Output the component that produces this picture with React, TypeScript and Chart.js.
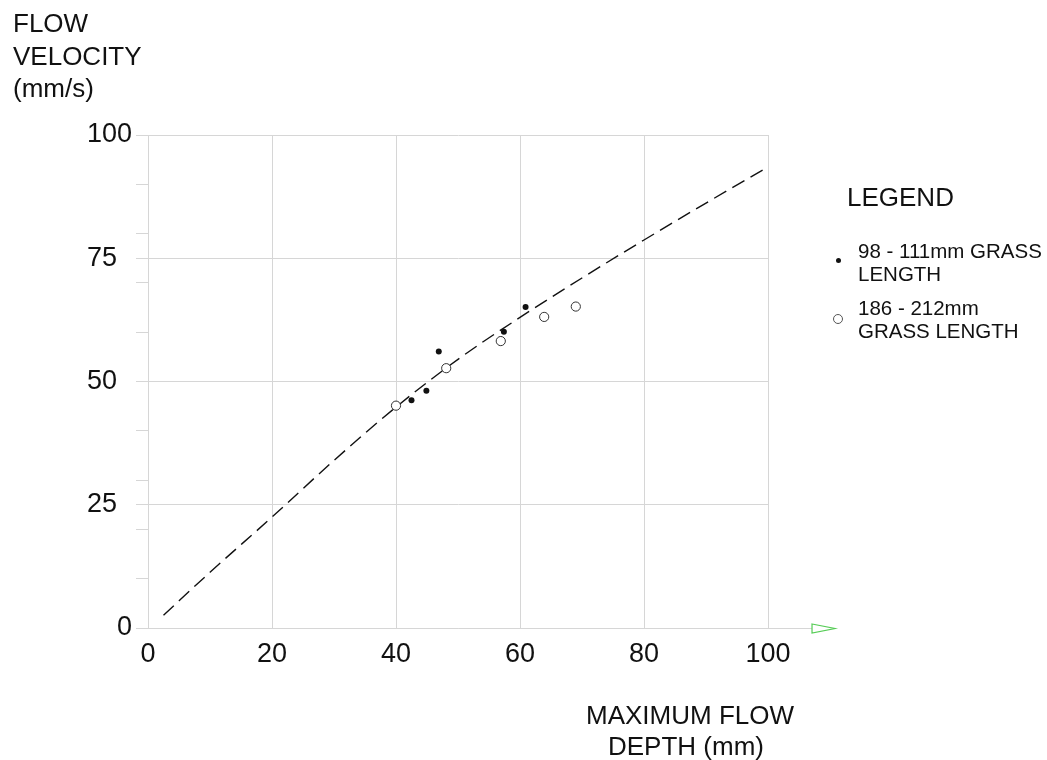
import React, { useEffect, useRef } from 'react';
import { Chart, registerables } from 'chart.js';

Chart.register(...registerables);

// Fitted curve (dashed)
const CURVE_X = [2.5, 10, 20, 30, 40, 50, 60, 70, 80, 90, 100];
const CURVE_Y = [2.6, 11.3, 22.5, 34, 44.8, 54.5, 63, 71, 78.7, 86.2, 93.5];
// 98 - 111mm grass length (filled dots)
const SHORT_X = [42.5, 44.9, 46.9, 57.4, 60.9];
const SHORT_Y = [46.2, 48.1, 56.1, 60.1, 65.1];
// 186 - 212mm grass length (open circles)
const LONG_X = [40, 48.1, 56.9, 63.9, 69];
const LONG_Y = [45.1, 52.7, 58.2, 63.1, 65.2];

const X_TICKS = [0, 20, 40, 60, 80, 100];
const Y_TICKS = [0, 10, 20, 25, 30, 40, 50, 60, 70, 75, 80, 90, 100];
const Y_LABELS = [0, 25, 50, 75, 100];

const Y_TITLE = ['FLOW', 'VELOCITY', '(mm/s)'];
const X_TITLE = ['MAXIMUM FLOW', 'DEPTH (mm)'];
const LEGEND_TITLE = 'LEGEND';
const LEGEND_SHORT = ['98 - 111mm GRASS', 'LENGTH'];
const LEGEND_LONG = ['186 - 212mm', 'GRASS LENGTH'];

const FONT = '"Liberation Sans", Arial, Helvetica, sans-serif';
const GRID = '#d6d6d6';
const INK = '#111111';

const zip = (xs: number[], ys: number[]) => xs.map((x, i) => ({ x, y: ys[i] }));

// two-digit labels in the original sit one digit-width further left
const yLabel = (v: number) => {
  const s = String(v);
  return s.length === 2 ? s + '\u2007' : s;
};

const arrowPlugin = {
  id: 'axisArrow',
  afterDraw(chart: any) {
    const xs = chart.scales.x;
    const ys = chart.scales.y;
    const ctx = chart.ctx;
    const y0 = Math.round(ys.getPixelForValue(0)) + 0.5;
    const xEnd = xs.getPixelForValue(100);
    const xLine = xs.getPixelForValue(107.1);
    const xTip = xs.getPixelForValue(110.8);
    ctx.save();
    ctx.strokeStyle = GRID;
    ctx.lineWidth = 1;
    ctx.beginPath();
    ctx.moveTo(xEnd, y0);
    ctx.lineTo(xLine, y0);
    ctx.stroke();
    ctx.strokeStyle = '#55cc55';
    ctx.lineWidth = 1.2;
    ctx.beginPath();
    ctx.moveTo(xLine, y0 - 4.5);
    ctx.lineTo(xTip, y0);
    ctx.lineTo(xLine, y0 + 4.5);
    ctx.closePath();
    ctx.stroke();
    ctx.restore();
  },
};

export default function App() {
  const ref = useRef<HTMLCanvasElement | null>(null);

  useEffect(() => {
    if (!ref.current) return;
    const chart = new Chart(ref.current, {
      type: 'scatter',
      data: {
        datasets: [
          {
            label: LEGEND_SHORT.join(' '),
            data: zip(SHORT_X, SHORT_Y),
            pointRadius: 3,
            pointBackgroundColor: INK,
            pointBorderColor: INK,
            pointBorderWidth: 0,
            showLine: false,
            order: 1,
          },
          {
            label: LEGEND_LONG.join(' '),
            data: zip(LONG_X, LONG_Y),
            pointRadius: 4.6,
            pointBackgroundColor: '#ffffff',
            pointBorderColor: '#333333',
            pointBorderWidth: 1,
            showLine: false,
            order: 2,
          },
          {
            label: 'fit',
            data: zip(CURVE_X, CURVE_Y),
            showLine: true,
            pointRadius: 0,
            borderColor: INK,
            borderWidth: 1.4,
            borderDash: [14, 7],
            tension: 0.4,
            cubicInterpolationMode: 'monotone',
            fill: false,
            order: 3,
          } as any,
        ],
      },
      options: {
        responsive: false,
        animation: false,
        devicePixelRatio: 1,
        layout: { padding: { top: 135, right: 279, left: 0, bottom: 0 } },
        plugins: { legend: { display: false }, tooltip: { enabled: false } },
        scales: {
          x: {
            type: 'linear',
            min: 0,
            max: 100,
            afterBuildTicks: (s: any) => {
              s.ticks = X_TICKS.map((v) => ({ value: v }));
            },
            afterFit: (s: any) => {
              s.height = 132;
            },
            grid: { color: GRID, lineWidth: 1, drawTicks: false },
            border: { display: true, color: GRID },
            ticks: {
              autoSkip: false,
              maxRotation: 0,
              padding: 10,
              color: INK,
              font: { family: FONT, size: 27 },
            },
          },
          y: {
            type: 'linear',
            min: 0,
            max: 100,
            afterBuildTicks: (s: any) => {
              s.ticks = Y_TICKS.map((v) => ({ value: v }));
            },
            afterFit: (s: any) => {
              s.width = 148;
            },
            grid: {
              color: (c: any) => (Y_LABELS.includes(c.tick?.value) ? GRID : 'rgba(0,0,0,0)'),
              tickColor: GRID,
              tickLength: 12,
              drawTicks: true,
              lineWidth: 1,
            },
            border: { display: true, color: GRID },
            ticks: {
              autoSkip: false,
              padding: 4,
              color: INK,
              font: { family: FONT, size: 27 },
              callback: (v: any) => (Y_LABELS.includes(Number(v)) ? yLabel(Number(v)) : ''),
            },
          },
        },
      },
      plugins: [arrowPlugin],
    });
    return () => chart.destroy();
  }, []);

  const text: React.CSSProperties = {
    position: 'absolute',
    fontFamily: FONT,
    color: INK,
    whiteSpace: 'nowrap',
  };

  return (
    <div style={{ position: 'fixed', left: 0, top: 0, width: 1047, height: 760, background: '#fff' }}>
      <canvas ref={ref} width={1047} height={760} style={{ position: 'absolute', left: 0, top: 0 }} />
      <div style={{ ...text, left: 13, top: 7, fontSize: 26, lineHeight: '32.5px' }}>
        {Y_TITLE.map((t) => (
          <div key={t}>{t}</div>
        ))}
      </div>
      <div
        style={{
          ...text,
          left: 586,
          top: 700,
          width: 200,
          textAlign: 'center',
          fontSize: 26,
          lineHeight: '31px',
        }}
      >
        {X_TITLE.map((t) => (
          <div key={t}>{t}</div>
        ))}
      </div>
      <div style={{ ...text, left: 847, top: 182, fontSize: 26, lineHeight: '31px' }}>{LEGEND_TITLE}</div>
      <div
        style={{
          position: 'absolute',
          left: 835.5,
          top: 257.5,
          width: 5,
          height: 5,
          borderRadius: '50%',
          background: INK,
        }}
      />
      <div style={{ ...text, left: 858, top: 239, fontSize: 20.5, lineHeight: '23px' }}>
        {LEGEND_SHORT.map((t) => (
          <div key={t}>{t}</div>
        ))}
      </div>
      <div
        style={{
          position: 'absolute',
          left: 833,
          top: 314,
          width: 8,
          height: 8,
          borderRadius: '50%',
          border: '1px solid #555',
          background: '#fff',
        }}
      />
      <div style={{ ...text, left: 858, top: 296, fontSize: 20.5, lineHeight: '23px' }}>
        {LEGEND_LONG.map((t) => (
          <div key={t}>{t}</div>
        ))}
      </div>
    </div>
  );
}
